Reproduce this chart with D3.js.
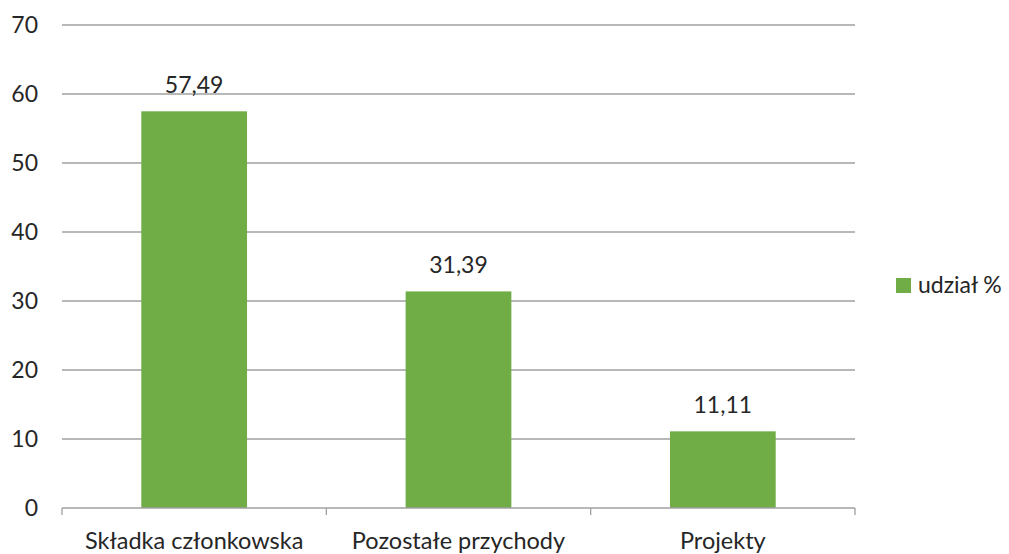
<!DOCTYPE html>
<html>
<head>
<meta charset="utf-8">
<script src="https://cdn.jsdelivr.net/npm/d3@7"></script>
<style>
  body { margin: 0; background: #fff; }
  text { font-family: Lato, "Open Sans", sans-serif; fill: #262626; }
</style>
</head>
<body>
<script>
const categories = ['Składka członkowska', 'Pozostałe przychody', 'Projekty'];
const values = [57.49, 31.39, 11.11];
const valueLabels = ['57,49', '31,39', '11,11'];
const yTicks = [0, 10, 20, 30, 40, 50, 60, 70];
const seriesName = 'udział %';

const width = 1009, height = 554;
const plotLeft = 62, plotRight = 855, plotTop = 25, plotBottom = 508;
const green = '#70ad47';

const svg = d3.select('body').append('svg')
  .attr('width', width)
  .attr('height', height);

const x = d3.scaleBand()
  .domain(categories)
  .range([plotLeft, plotRight])
  .paddingInner(0.6)
  .paddingOuter(0.3);

const y = d3.scaleLinear()
  .domain([0, 70])
  .range([plotBottom, plotTop]);

// gridlines
svg.append('g')
  .selectAll('line')
  .data(yTicks.filter(d => d > 0))
  .join('line')
  .attr('x1', plotLeft).attr('x2', plotRight)
  .attr('y1', d => y(d)).attr('y2', d => y(d))
  .attr('stroke', '#a0a0a0')
  .attr('stroke-width', 1.3);

// y labels
svg.append('g')
  .selectAll('text')
  .data(yTicks)
  .join('text')
  .attr('x', 38)
  .attr('y', d => y(d))
  .attr('dy', '0.36em')
  .attr('text-anchor', 'end')
  .attr('font-size', 23)
  .text(d => d);

// bars
svg.append('g')
  .selectAll('rect')
  .data(values)
  .join('rect')
  .attr('x', (d, i) => x(categories[i]))
  .attr('y', d => y(d))
  .attr('width', x.bandwidth())
  .attr('height', d => y(0) - y(d))
  .attr('fill', green);

// value labels
svg.append('g')
  .selectAll('text')
  .data(values)
  .join('text')
  .attr('x', (d, i) => x(categories[i]) + x.bandwidth() / 2)
  .attr('y', d => y(d) - 18)
  .attr('text-anchor', 'middle')
  .attr('font-size', 23)
  .text((d, i) => valueLabels[i]);

// x axis line + tick marks at category boundaries
const step = x.step();
svg.append('line')
  .attr('x1', plotLeft).attr('x2', plotRight)
  .attr('y1', plotBottom).attr('y2', plotBottom)
  .attr('stroke', '#a0a0a0')
  .attr('stroke-width', 1.3);
svg.append('g')
  .selectAll('line')
  .data(d3.range(categories.length + 1))
  .join('line')
  .attr('x1', i => plotLeft + i * step).attr('x2', i => plotLeft + i * step)
  .attr('y1', plotBottom).attr('y2', plotBottom + 7)
  .attr('stroke', '#a0a0a0')
  .attr('stroke-width', 1.3);

// category labels
svg.append('g')
  .selectAll('text')
  .data(categories)
  .join('text')
  .attr('x', d => x(d) + x.bandwidth() / 2)
  .attr('y', 549)
  .attr('text-anchor', 'middle')
  .attr('font-size', 23.5)
  .text(d => d);

// legend
svg.append('rect')
  .attr('x', 896).attr('y', 278)
  .attr('width', 15).attr('height', 15)
  .attr('fill', green);
svg.append('text')
  .attr('x', 918).attr('y', 293)
  .attr('font-size', 23)
  .text(seriesName);
</script>
</body>
</html>
